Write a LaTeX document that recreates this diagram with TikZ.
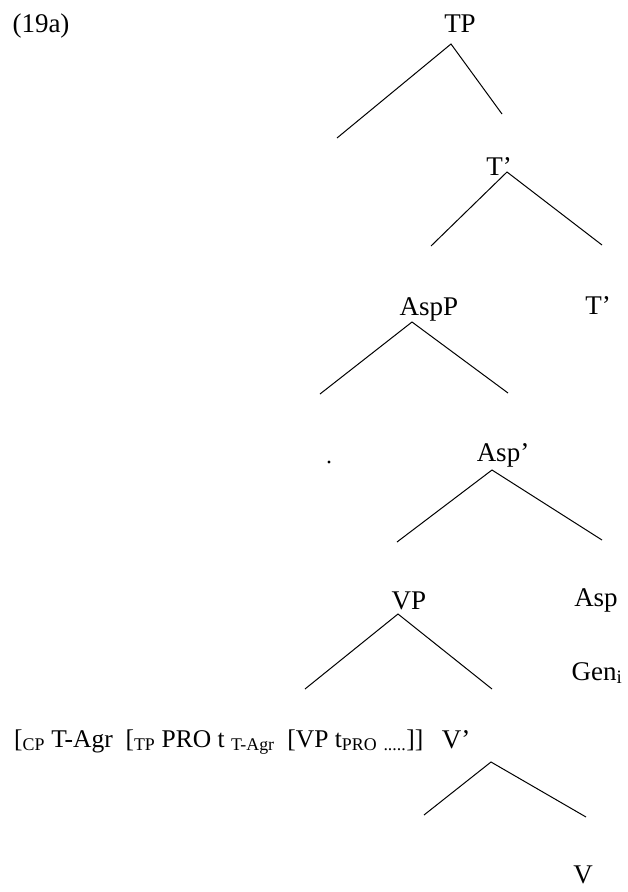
\documentclass[tikz,border=0pt]{standalone}
\usepackage{fontspec}
\setmainfont{Liberation Serif}
\usetikzlibrary{positioning}

\begin{document}
\begin{tikzpicture}[
  x=1pt, y=-1pt,
  cat/.style={font=\fontsize{27}{30}\selectfont, inner sep=0pt, anchor=base},
  gloss/.style={font=\fontsize{25.5}{30}\selectfont, inner sep=0pt, anchor=base west},
  branch/.style={black, line width=1pt}
]
\useasboundingbox (0,0) rectangle (628,892);

% Labels
\node[cat] (ex) at (41,32) {(19a)};
\node[cat] (tp) at (460,32) {TP};
\node[cat] (tbar) at (499,175) {T'};
\node[cat] (aspp) at (429,315) {AspP};
\node[cat] (thead) at (598,314) {T'};
\node[circle, fill, inner sep=1.1pt] (spec) at (329,462) {};
\node[cat] (aspbar) at (503,461) {Asp'};
\node[cat] (vp) at (409,609) {VP};
\node[cat] (asp) at (596,606) {Asp};
\node[cat] (gen) at (597,680) {Gen\textsubscript{i}};
\node[gloss] (cp) at (14,747) {[\textsubscript{CP} T-Agr\ \ [\textsubscript{TP} PRO t \textsubscript{T-Agr}\ \ [VP t\textsubscript{PRO} \textsubscript{.....}]]};
\node[cat] (vbar) at (456,748) {V'};
\node[cat] (v) at (583,883) {V};

% Apexes and branch ends
\coordinate (tpA) at (451,44);
\coordinate (tpL) at (337,138);
\coordinate (tpR) at (502,114);
\coordinate (tbarA) at (507,172);
\coordinate (tbarL) at (431,246);
\coordinate (tbarR) at (602,245);
\coordinate (asppA) at (412,322);
\coordinate (asppL) at (320,394);
\coordinate (asppR) at (508,393);
\coordinate (aspbarA) at (492,470);
\coordinate (aspbarL) at (397,542);
\coordinate (aspbarR) at (602,540);
\coordinate (vpA) at (398,614);
\coordinate (vpL) at (305,689);
\coordinate (vpR) at (492,689);
\coordinate (vbarA) at (491,762);
\coordinate (vbarL) at (424,815);
\coordinate (vbarR) at (586,817);

% Branches
\foreach \n in {tp, tbar, aspp, aspbar, vp, vbar}
  \draw[branch] (\n L) -- (\n A) -- (\n R);
\end{tikzpicture}
\end{document}
